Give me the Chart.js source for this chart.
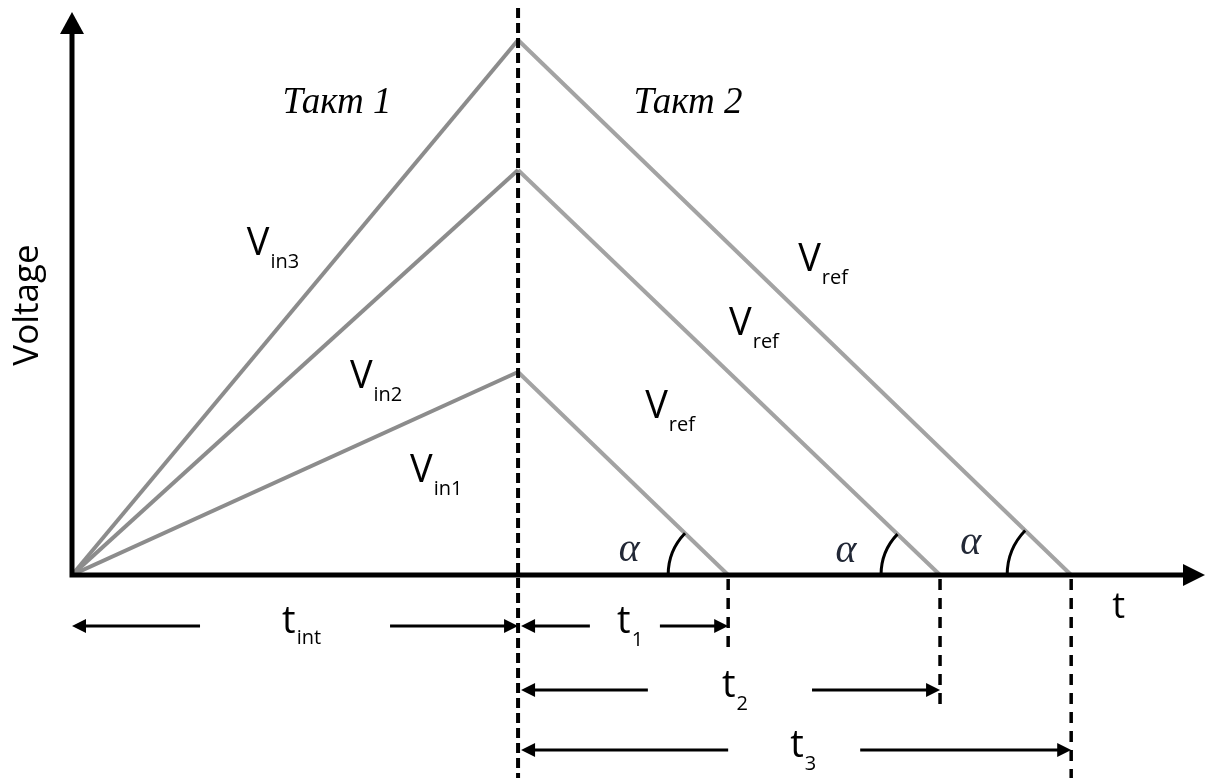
<!DOCTYPE html>
<html lang="ru">
<head>
    <meta charset="UTF-8">
    <title>Dual-slope integration</title>
    <script src="https://cdn.jsdelivr.net/npm/chart.js"></script>
    <style>
        html, body { margin: 0; padding: 0; background: #fff; }
        .chart-box { width: 1208px; height: 778px; position: relative; }
    </style>
</head>
<body>
    <div class="chart-box">
        <canvas id="slopeChart"></canvas>
    </div>

    <script>
        // ---- data ----
        const inputNames = ['in1', 'in2', 'in3'];
        const tInt = 10;                              // integration time (Такт 1)
        const peakVoltage = [2.03, 4.05, 5.35];       // integrator output at t_int
        const dischargeTime = [4.71, 9.46, 12.40];    // t1, t2, t3
        const timeNames = ['1', '2', '3'];
        const phaseNames = ['Такт 1', 'Такт 2'];
        const timeMax = 25.4;
        const voltMin = -2.03;
        const voltMax = 5.63;

        // build line datasets: charge (rising) + discharge (falling)
        const datasets = [];
        inputNames.forEach((name, i) => {
            datasets.push({
                label: 'V' + name,
                data: [{ x: 0, y: 0 }, { x: tInt, y: peakVoltage[i] }],
                borderColor: '#8c8c8c',
                borderWidth: 4
            });
            datasets.push({
                label: 'Vref ' + (i + 1),
                data: [{ x: tInt, y: peakVoltage[i] }, { x: tInt + dischargeTime[i], y: 0 }],
                borderColor: '#a3a3a3',
                borderWidth: 4
            });
        });

        function arrow(ctx, x1, x2, yy) {
            // line from x1 to x2 with a head at x2
            const dir = x2 > x1 ? 1 : -1;
            ctx.beginPath();
            ctx.moveTo(x1, yy);
            ctx.lineTo(x2 - dir * 10, yy);
            ctx.stroke();
            ctx.beginPath();
            ctx.moveTo(x2, yy);
            ctx.lineTo(x2 - dir * 14, yy - 7);
            ctx.lineTo(x2 - dir * 14, yy + 7);
            ctx.closePath();
            ctx.fill();
        }

        function subText(ctx, main, sub, px, py, size, subSize, drop) {
            ctx.font = size + 'px "Open Sans"';
            ctx.textAlign = 'left';
            ctx.textBaseline = 'alphabetic';
            ctx.fillText(main, px, py);
            const w = ctx.measureText(main).width;
            ctx.font = subSize + 'px "Open Sans"';
            ctx.fillText(sub, px + w + 1, py + drop);
        }

        const marksPlugin = {
            id: 'marks',
            afterDatasetsDraw(chart) {
                const { ctx, chartArea, scales: { x, y } } = chart;
                const X = v => x.getPixelForValue(v);
                const Y = v => y.getPixelForValue(v);
                const x0 = X(0), y0 = Y(0);
                ctx.save();
                ctx.fillStyle = '#000';
                ctx.strokeStyle = '#000';

                // main dashed divider at t_int
                ctx.lineWidth = 4;
                ctx.setLineDash([10, 5]);
                ctx.beginPath();
                ctx.moveTo(X(tInt), 8);
                ctx.lineTo(X(tInt), chartArea.bottom);
                ctx.stroke();

                // short dashed drops at each end time
                const dropTo = [-0.73, -1.35, voltMin];
                ctx.lineWidth = 3.5;
                ctx.setLineDash([11, 8]);
                dischargeTime.forEach((d, i) => {
                    ctx.beginPath();
                    ctx.moveTo(X(tInt + d), y0 + 4);
                    ctx.lineTo(X(tInt + d), Y(dropTo[i]));
                    ctx.stroke();
                });
                ctx.setLineDash([]);

                // axes with arrow heads
                ctx.lineWidth = 5;
                ctx.beginPath();
                ctx.moveTo(x0, y0 + 2.5);
                ctx.lineTo(x0, Y(voltMax) + 18);
                ctx.moveTo(x0 - 2.5, y0);
                ctx.lineTo(X(timeMax) - 18, y0);
                ctx.stroke();
                ctx.beginPath();
                ctx.moveTo(x0, Y(voltMax));
                ctx.lineTo(x0 - 12, Y(voltMax) + 22);
                ctx.lineTo(x0 + 12, Y(voltMax) + 22);
                ctx.closePath();
                ctx.fill();
                ctx.beginPath();
                ctx.moveTo(X(timeMax), y0);
                ctx.lineTo(X(timeMax) - 22, y0 - 11);
                ctx.lineTo(X(timeMax) - 22, y0 + 11);
                ctx.closePath();
                ctx.fill();

                // angle arcs + alpha
                const alphaPos = [[12.49, 0.25], [17.35, 0.24], [20.15, 0.32]];
                const radius = [60, 59, 64];
                ctx.lineWidth = 3;
                dischargeTime.forEach((d, i) => {
                    const cx = X(tInt + d);
                    const ang = Math.atan2(Y(peakVoltage[i]) - y0, X(tInt) - cx);
                    ctx.beginPath();
                    ctx.arc(cx, y0, radius[i], Math.PI, ang + 2 * Math.PI);
                    ctx.stroke();
                    ctx.fillStyle = '#222836';
                    ctx.font = 'italic 40px "Liberation Serif"';
                    ctx.textAlign = 'center';
                    ctx.textBaseline = 'middle';
                    ctx.fillText('α', X(alphaPos[i][0]), Y(alphaPos[i][1]));
                });
                ctx.fillStyle = '#000';

                // dimension arrows below the time axis
                ctx.lineWidth = 3;
                const rows = [-0.51, -1.15, -1.75];
                arrow(ctx, X(2.87), X(0), Y(rows[0]));
                arrow(ctx, X(7.13), X(tInt), Y(rows[0]));
                arrow(ctx, X(11.61), X(tInt) + 3, Y(rows[0]));
                arrow(ctx, X(13.18), X(tInt + dischargeTime[0]), Y(rows[0]));
                arrow(ctx, X(12.91), X(tInt) + 3, Y(rows[1]));
                arrow(ctx, X(16.59), X(tInt + dischargeTime[1]), Y(rows[1]));
                arrow(ctx, X(14.71), X(tInt) + 3, Y(rows[2]));
                arrow(ctx, X(17.67), X(tInt + dischargeTime[2]), Y(rows[2]));

                // time labels
                subText(ctx, 't', 'int', X(4.71), Y(-0.58), 38, 20, 11);
                const tPos = [[12.22, -0.58], [14.57, -1.22], [16.10, -1.82]];
                timeNames.forEach((n, i) => {
                    subText(ctx, 't', n, X(tPos[i][0]), Y(tPos[i][1]), 38, 20, 13);
                });
                ctx.font = '36px "Open Sans"';
                ctx.fillText('t', X(23.32), Y(-0.43));

                // voltage labels
                const vinPos = [[7.58, 0.93], [6.23, 1.87], [3.92, 3.20]];
                inputNames.forEach((n, i) => {
                    subText(ctx, 'V', n, X(vinPos[i][0]), Y(vinPos[i][1]), 38, 20, 13);
                });
                const refPos = [[12.85, 1.57], [14.73, 2.40], [16.28, 3.04]];
                refPos.forEach(p => subText(ctx, 'V', 'ref', X(p[0]), Y(p[1]), 38, 20, 13));

                // phase labels
                ctx.font = 'italic 37px "Liberation Serif"';
                ctx.textAlign = 'center';
                ctx.fillText(phaseNames[0], X(5.94), Y(4.62));
                ctx.fillText(phaseNames[1], X(13.81), Y(4.62));

                // axis title
                ctx.translate(28, 305);
                ctx.rotate(-Math.PI / 2);
                ctx.font = '35px "Open Sans"';
                ctx.textBaseline = 'middle';
                ctx.fillText('Voltage', 0, 0);
                ctx.restore();
            }
        };

        new Chart(document.getElementById('slopeChart'), {
            type: 'scatter',
            data: { datasets: datasets },
            options: {
                responsive: true,
                maintainAspectRatio: false,
                animation: false,
                layout: { padding: { left: 72, right: 3, top: 12, bottom: 0 } },
                elements: { point: { radius: 0, hoverRadius: 0 }, line: { tension: 0 } },
                datasets: { scatter: { showLine: true } },
                plugins: { legend: { display: false }, tooltip: { enabled: false } },
                scales: {
                    x: { type: 'linear', min: 0, max: timeMax, display: false },
                    y: { type: 'linear', min: voltMin, max: voltMax, display: false }
                }
            },
            plugins: [marksPlugin]
        });
    </script>
</body>
</html>
